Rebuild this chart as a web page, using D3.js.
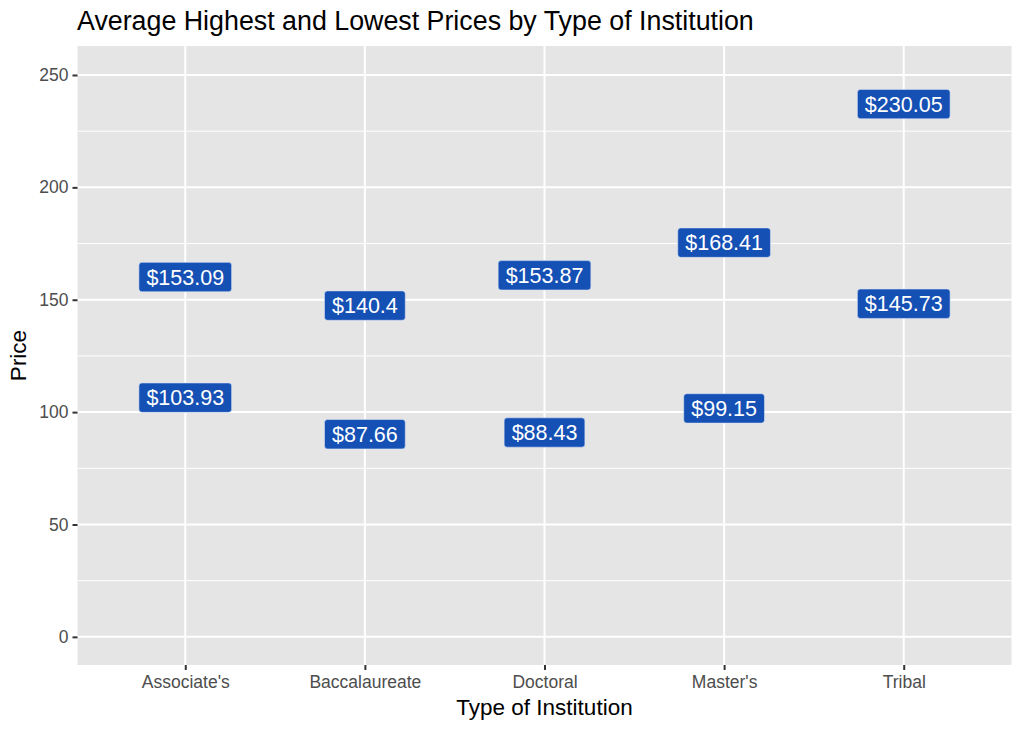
<!DOCTYPE html>
<html><head><meta charset="utf-8">
<script src="https://cdn.jsdelivr.net/npm/d3@7"></script>
<style>body{margin:0;background:#fff;} text{font-family:"Liberation Sans",Arial,Helvetica,sans-serif;}</style>
</head><body>
<svg id="c" width="1023" height="731"></svg>
<script>
const categories = ["Associate's","Baccalaureate","Doctoral","Master's","Tribal"];
const highPrices = [153.09, 140.4, 153.87, 168.41, 230.05];
const lowPrices = [103.93, 87.66, 88.43, 99.15, 145.73];
const yTicks = [0, 50, 100, 150, 200, 250];
const yMinor = [25, 75, 125, 175, 225];
const title = "Average Highest and Lowest Prices by Type of Institution";
const xTitle = "Type of Institution";
const yTitle = "Price";
const highNudge = 7, lowNudge = 2.5;

const svg = d3.select("#c");
const m = {left: 77.5, right: 1011.5, top: 46, bottom: 665};
const x = d3.scalePoint().domain(categories).range([m.left, m.right]).padding(0.6);
const y = d3.scaleLinear().domain([-12.52, 262.9]).range([m.bottom, m.top]);

svg.append("rect").attr("x", m.left).attr("y", m.top).attr("width", m.right - m.left).attr("height", m.bottom - m.top).attr("fill", "#e5e5e5");

const g = svg.append("g");
g.selectAll(".minor").data(yMinor).join("line").attr("x1", m.left).attr("x2", m.right)
  .attr("y1", d => y(d)).attr("y2", d => y(d)).attr("stroke", "#fff").attr("stroke-width", 1);
g.selectAll(".major").data(yTicks).join("line").attr("x1", m.left).attr("x2", m.right)
  .attr("y1", d => y(d)).attr("y2", d => y(d)).attr("stroke", "#fff").attr("stroke-width", 2);
g.selectAll(".vmajor").data(categories).join("line").attr("y1", m.top).attr("y2", m.bottom)
  .attr("x1", d => x(d)).attr("x2", d => x(d)).attr("stroke", "#fff").attr("stroke-width", 2);

// axes
const yAxis = d3.axisLeft(y).tickValues(yTicks).tickSize(5).tickPadding(4);
const ya = svg.append("g").attr("transform", `translate(${m.left},0)`).call(yAxis);
ya.select(".domain").remove();
ya.selectAll("line").attr("stroke", "#333").attr("stroke-width", 2);
ya.selectAll("text").attr("fill", "#4d4d4d").style("font-size", "17.5px").attr("font-family", null);

const xAxis = d3.axisBottom(x).tickSize(5).tickPadding(6);
const xa = svg.append("g").attr("transform", `translate(0,${m.bottom})`).call(xAxis);
xa.select(".domain").remove();
xa.selectAll("line").attr("stroke", "#333").attr("stroke-width", 2);
xa.selectAll("text").attr("fill", "#4d4d4d").style("font-size", "17.5px").attr("font-family", null);

// labels
const data = [];
categories.forEach((c, i) => {
  data.push({c, v: highPrices[i], yy: highPrices[i] + highNudge});
  data.push({c, v: lowPrices[i], yy: lowPrices[i] + lowNudge});
});
const lab = svg.append("g").selectAll("g").data(data).join("g")
  .attr("transform", d => `translate(${x(d.c)},${y(d.yy)})`);
lab.each(function(d) {
  const gg = d3.select(this);
  const t = gg.append("text").text("$" + d.v).attr("text-anchor", "middle").attr("dy", "0.36em")
    .attr("fill", "#fff").style("font-size", "21.5px");
  const w = t.node().getComputedTextLength();
  gg.insert("rect", "text").attr("x", -w / 2 - 7.5).attr("y", -14.7).attr("width", w + 15).attr("height", 29.4)
    .attr("rx", 3).attr("fill", "#1550b5").attr("stroke", "#d8e2f3").attr("stroke-width", 0.6);
});

svg.append("text").attr("x", 77).attr("y", 30).text(title).attr("fill", "#000").style("font-size", "26.8px");
svg.append("text").attr("x", (m.left + m.right) / 2).attr("y", 715).attr("text-anchor", "middle").text(xTitle)
  .attr("fill", "#000").style("font-size", "22.5px");
svg.append("text").attr("transform", `translate(26,${(m.top + m.bottom) / 2}) rotate(-90)`).attr("text-anchor", "middle")
  .text(yTitle).attr("fill", "#000").style("font-size", "22.5px");
</script>
</body></html>
